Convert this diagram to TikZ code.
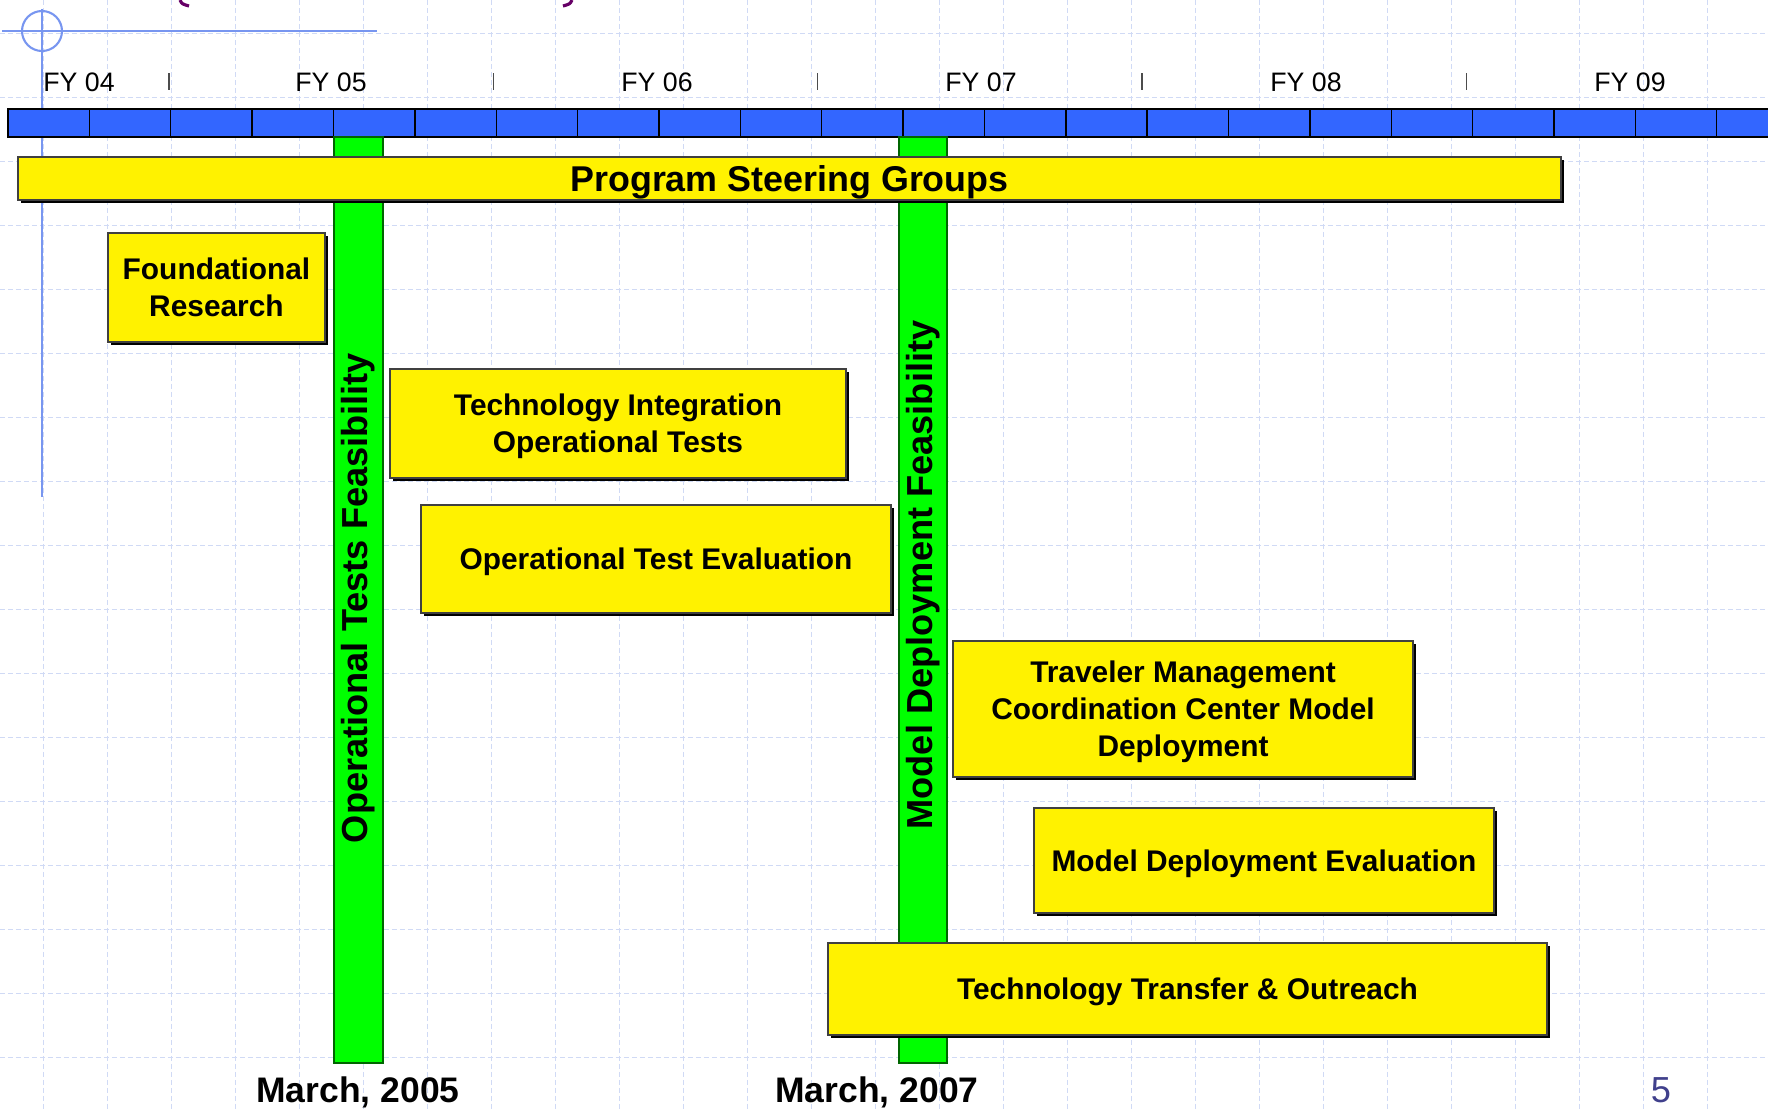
\documentclass[tikz,border=0pt]{standalone}
\usepackage{fontspec}
\setmainfont{Liberation Sans}
\usetikzlibrary{shadows}

\definecolor{barblue}{RGB}{51,102,255}
\definecolor{gategreen}{RGB}{0,255,0}
\definecolor{gridblue}{RGB}{208,218,245}
\definecolor{decoblue}{RGB}{120,150,240}
\definecolor{titlepurple}{RGB}{102,0,102}
\definecolor{pagenum}{RGB}{64,64,140}

\begin{document}
\begin{tikzpicture}[x=0.1mm,y=-0.1mm,
  task box/.style={rectangle,draw=black!75,line width=0.3pt,fill=yellow,align=center,
    font={\fontsize{8.5}{10.5}\selectfont\bfseries},inner sep=0pt,text depth=0pt,
    drop shadow={shadow xshift=0.3mm,shadow yshift=-0.3mm,fill=black,opacity=1}},
  gate bar/.style={rectangle,draw=green!40!black,line width=0.3pt,fill=gategreen,
    inner sep=0pt,minimum height=92.6mm},
  gate label/.style={rotate=90,font={\fontsize{10.3}{12}\selectfont\bfseries},inner sep=0pt},
  fy label/.style={font={\fontsize{7.6}{9}\selectfont},inner sep=0pt},
  date label/.style={font={\fontsize{10.1}{12}\selectfont\bfseries},inner sep=0pt},
  grid line/.style={gridblue,line width=0.25pt,dash pattern=on 0.5mm off 0.3mm},
  deco line/.style={decoblue,line width=0.6pt}]

  \useasboundingbox (0,0) rectangle (1768,1110);
  \clip (0,0) rectangle (1768,1110);

  % background grid
  \foreach \gx in {0,...,26}
    \draw[grid line] (43+64*\gx,0) -- (43+64*\gx,1110);
  \foreach \gy in {0,...,16}
    \draw[grid line] (0,33+64*\gy) -- (1768,33+64*\gy);

  % slide corner mark and title remains
  \draw[deco line] (42,31) circle[radius=2mm];
  \draw[deco line] (2,31) -- (377,31);
  \draw[deco line] (42,9) -- (42,497);
  \draw[titlepurple,line width=0.9pt] (180,0) .. controls (182,4) .. (189,6);
  \draw[titlepurple,line width=0.9pt] (572,0) .. controls (570,4) .. (563,6);

  % fiscal years
  \foreach \k in {0,...,4}
    \draw[black!70,line width=0.4pt] (169+324.3*\k,73) -- (169+324.3*\k,90);
  \foreach \lbl/\fx in {04/79,05/331,06/657,07/981,08/1306,09/1630}
    \node[fy label] (fy\lbl) at (\fx,82.5) {FY \lbl};

  % quarter bar
  \draw[fill=barblue,draw=black,line width=0.5pt] (8,109) rectangle (1790,137);
  \foreach \k in {1,...,21}
    \draw[black,line width=0.4pt] (8+81.37*\k,109) -- (8+81.37*\k,137);

  \node[gate bar,minimum width=4.9mm] (gate1) at (358.5,600) {};
  \node[gate bar,minimum width=4.8mm] (gate2) at (923,600) {};

  \node[task box,minimum width=154.3mm,minimum height=4.3mm,
        font={\fontsize{10.2}{12}\selectfont\bfseries}] (psg) at (789.5,178.5) {Program Steering Groups};
  \node[task box,minimum width=21.7mm,minimum height=10.9mm] (found) at (216.5,287.5) {Foundational\\Research};
  \node[task box,minimum width=45.6mm,minimum height=10.9mm] (techint) at (618,423.5) {Technology Integration\\Operational Tests};
  \node[task box,minimum width=47mm,minimum height=10.8mm] (opeval) at (656,559) {Operational Test Evaluation};
  \node[task box,minimum width=46mm,minimum height=13.6mm] (tmcc) at (1183,709) {Traveler Management\\Coordination Center Model\\Deployment};
  \node[task box,minimum width=46mm,minimum height=10.5mm] (mdeval) at (1264,860.5) {Model Deployment Evaluation};
  \node[task box,minimum width=71.9mm,minimum height=9.2mm] (tto) at (1187.5,989) {Technology Transfer \& Outreach};

  \node[gate label] (otf) at (358,598) {Operational Tests Feasibility};
  \node[gate label] (mdf) at (923,575) {Model Deployment Feasibility};

  \node[date label] (mar05) at (358,1092) {March, 2005};
  \node[date label] (mar07) at (877,1092) {March, 2007};

  \node[pagenum,font={\fontsize{10.3}{12}\selectfont},inner sep=0pt] (pnum) at (1661,1090) {5};
\end{tikzpicture}
\end{document}
